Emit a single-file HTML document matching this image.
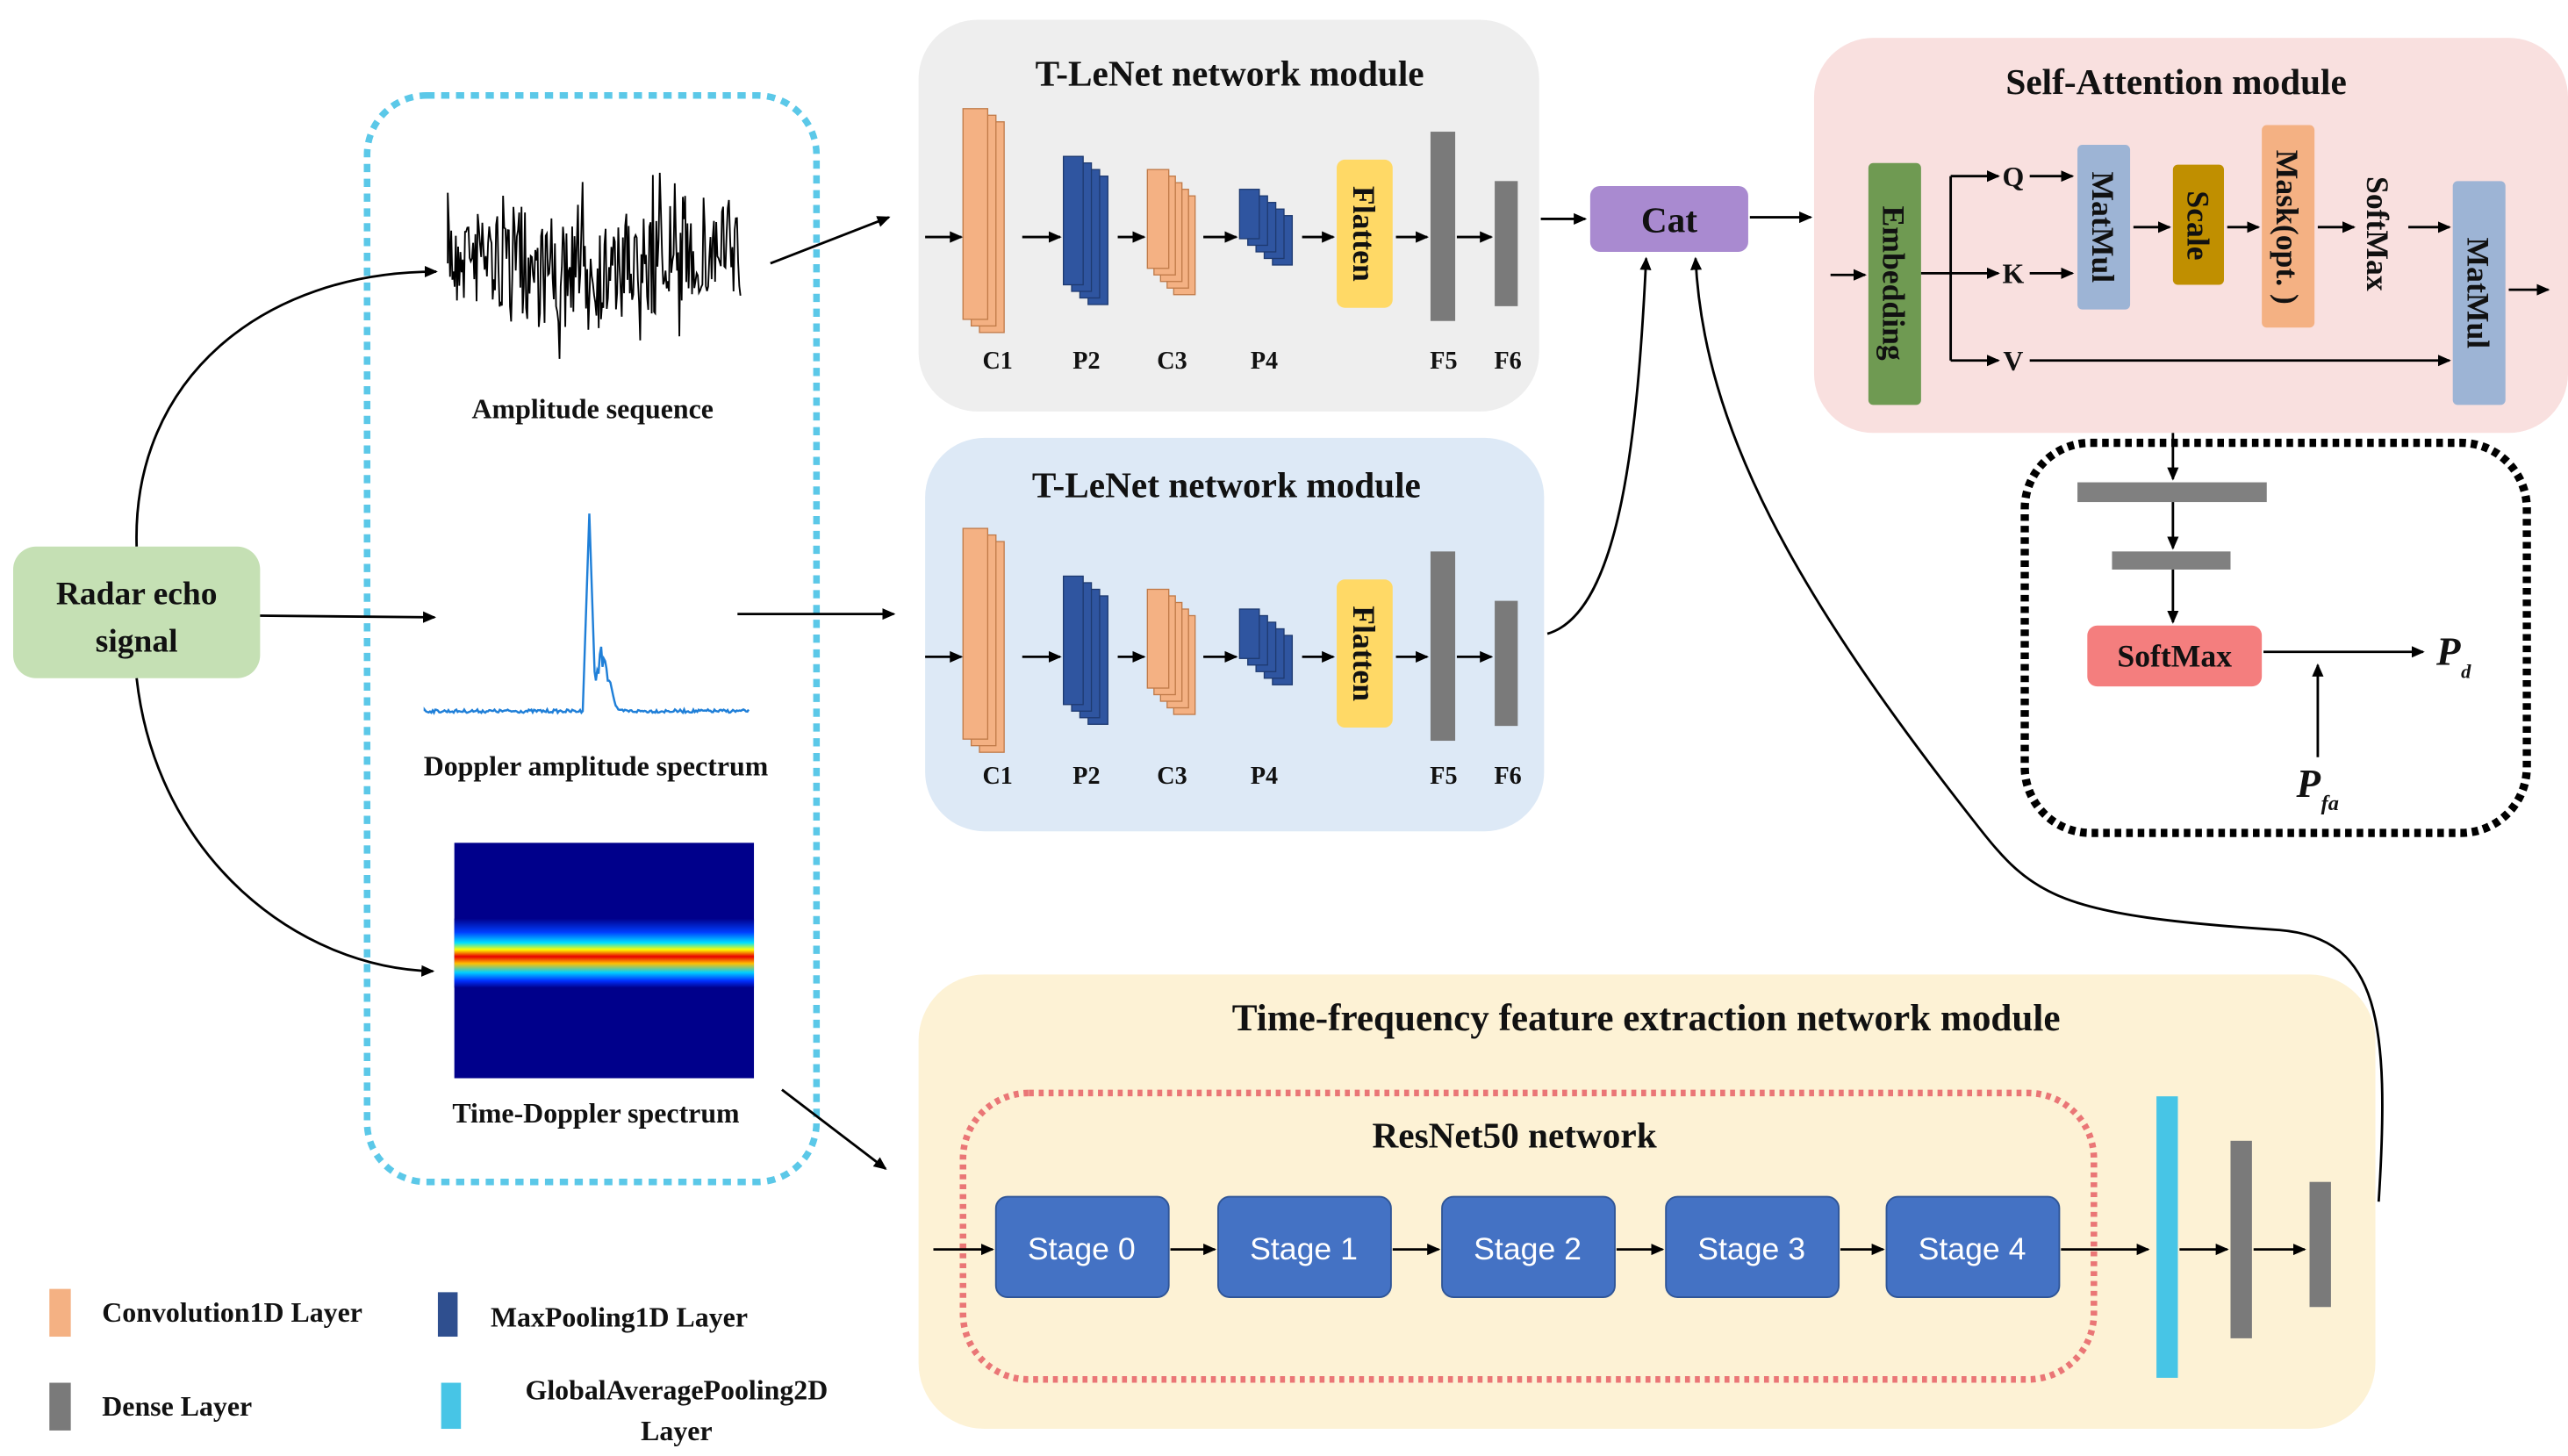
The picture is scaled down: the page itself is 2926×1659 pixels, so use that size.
<!DOCTYPE html>
<html><head><meta charset="utf-8"><style>
html,body{margin:0;padding:0;background:#fff}
svg{display:block}
text{font-family:"Liberation Serif",serif;font-weight:bold;fill:#111}
</style></head><body>
<svg id="s" width="2926" height="1659" viewBox="0 0 1560 884.5" preserveAspectRatio="none" xmlns="http://www.w3.org/2000/svg">
<defs>
<marker id="a" markerWidth="8" markerHeight="8" refX="7" refY="4" orient="auto" markerUnits="userSpaceOnUse"><path d="M0,0.5 L8,4 L0,7.5 Z" fill="#000"/></marker>
<linearGradient id="band" x1="0" y1="0" x2="0" y2="1">
<stop offset="0" stop-color="#00008b"/><stop offset="0.2" stop-color="#0040ff"/><stop offset="0.35" stop-color="#00e0ff"/><stop offset="0.45" stop-color="#ffff00"/><stop offset="0.55" stop-color="#e80000"/><stop offset="0.65" stop-color="#ffc000"/><stop offset="0.78" stop-color="#00d0ff"/><stop offset="0.9" stop-color="#0030ff"/><stop offset="1" stop-color="#00008b"/></linearGradient>
</defs>

<!-- Radar -->
<rect x="8" y="332" width="150" height="80" rx="14" fill="#c5e0b4"/>
<text x="83" y="367" font-size="20" text-anchor="middle">Radar echo</text>
<text x="83" y="396" font-size="20" text-anchor="middle">signal</text>

<!-- dotted input box -->
<rect x="223" y="58" width="273" height="660" rx="36" fill="none" stroke="#5bc8e8" stroke-width="4" stroke-dasharray="5,4"/>

<g id="amp"></g>
<text x="360" y="254" font-size="17" text-anchor="middle">Amplitude sequence</text>
<g id="dop"></g>
<text x="362" y="471" font-size="17" text-anchor="middle">Doppler amplitude spectrum</text>
<rect x="276" y="512" width="182" height="143" fill="#00008b"/>
<rect x="276" y="558" width="182" height="42" fill="url(#band)"/>
<text x="362" y="682" font-size="17" text-anchor="middle">Time-Doppler spectrum</text>

<!-- T-LeNet 1 -->
<g id="m1">
<rect x="558" y="12" width="377" height="238" rx="36" fill="#eeeeee"/>
</g>
<rect x="562" y="266" width="376" height="239" rx="36" fill="#dde9f6"/>
<text x="747" y="52" font-size="22" text-anchor="middle">T-LeNet network module</text>
<text x="745" y="302" font-size="22" text-anchor="middle">T-LeNet network module</text>
<g id="nets"></g>

<!-- Cat -->
<rect x="966" y="113" width="96" height="40" rx="6" fill="#a98ad0"/>
<text x="1014" y="141" font-size="22" text-anchor="middle" fill="#222">Cat</text>

<!-- Self-attention -->
<rect x="1102" y="23" width="458" height="240" rx="36" fill="#f9e0df"/>
<text x="1322" y="57" font-size="22" text-anchor="middle">Self-Attention  module</text>
<rect x="1135" y="99" width="32" height="147" rx="3" fill="#6f9a52"/>
<text transform="translate(1144,172) rotate(90)" font-size="19" text-anchor="middle">Embedding</text>
<rect x="1262" y="88" width="32" height="100" rx="3" fill="#9db4d5"/>
<text transform="translate(1271,138) rotate(90)" font-size="19" text-anchor="middle">MatMul</text>
<rect x="1320" y="100" width="31" height="73" rx="3" fill="#c08f00"/>
<text transform="translate(1329,137) rotate(90)" font-size="19" text-anchor="middle">Scale</text>
<rect x="1374" y="76" width="32" height="123" rx="3" fill="#f4b183"/>
<text transform="translate(1383,138) rotate(90)" font-size="19" text-anchor="middle">Mask(opt. )</text>
<text transform="translate(1438,142) rotate(90)" font-size="19" text-anchor="middle">SoftMax</text>
<rect x="1490" y="110" width="32" height="136" rx="3" fill="#9db4d5"/>
<text transform="translate(1499,178) rotate(90)" font-size="19" text-anchor="middle">MatMul</text>
<text x="1223" y="113" font-size="17" text-anchor="middle">Q</text>
<text x="1223" y="172" font-size="17" text-anchor="middle">K</text>
<text x="1223" y="225" font-size="17" text-anchor="middle">V</text>
<g stroke="#000" stroke-width="1.5" fill="none">
<line x1="1112" y1="167" x2="1133" y2="167" marker-end="url(#a)"/>
<line x1="1167" y1="166" x2="1185" y2="166"/>
<line x1="1185" y1="107" x2="1185" y2="219"/>
<line x1="1185" y1="107" x2="1214" y2="107" marker-end="url(#a)"/>
<line x1="1185" y1="166" x2="1214" y2="166" marker-end="url(#a)"/>
<line x1="1185" y1="219" x2="1214" y2="219" marker-end="url(#a)"/>
<line x1="1233" y1="107" x2="1259" y2="107" marker-end="url(#a)"/>
<line x1="1233" y1="166" x2="1259" y2="166" marker-end="url(#a)"/>
<line x1="1296" y1="138" x2="1318" y2="138" marker-end="url(#a)"/>
<line x1="1353" y1="138" x2="1372" y2="138" marker-end="url(#a)"/>
<line x1="1408" y1="138" x2="1430" y2="138" marker-end="url(#a)"/>
<line x1="1463" y1="138" x2="1488" y2="138" marker-end="url(#a)"/>
<line x1="1233" y1="219" x2="1488" y2="219" marker-end="url(#a)"/>
<line x1="1524" y1="176" x2="1548" y2="176" marker-end="url(#a)"/>
</g>

<!-- output dotted box -->
<rect x="1230" y="269" width="305" height="237" rx="40" fill="none" stroke="#000" stroke-width="5" stroke-dasharray="4,3"/>
<rect x="1262" y="293" width="115" height="12" fill="#808080"/>
<rect x="1283" y="335" width="72" height="11" fill="#808080"/>
<rect x="1268" y="380" width="106" height="37" rx="6" fill="#f47e7e"/>
<text x="1321" y="405" font-size="19" text-anchor="middle" fill="#222">SoftMax</text>
<text x="1480" y="404" font-size="24" font-style="italic">P</text><text x="1495" y="412" font-size="12" font-style="italic">d</text>
<text x="1395" y="484" font-size="24" font-style="italic">P</text><text x="1410" y="492" font-size="13" font-style="italic">fa</text>
<g stroke="#000" stroke-width="1.5" fill="none">
<line x1="1320" y1="263" x2="1320" y2="291" marker-end="url(#a)"/>
<line x1="1320" y1="305" x2="1320" y2="333" marker-end="url(#a)"/>
<line x1="1320" y1="346" x2="1320" y2="378" marker-end="url(#a)"/>
<line x1="1375" y1="396" x2="1472" y2="396" marker-end="url(#a)"/>
<line x1="1408" y1="460" x2="1408" y2="404" marker-end="url(#a)"/>
</g>

<!-- Time-frequency module -->
<rect x="558" y="592" width="885" height="276" rx="40" fill="#fdf2d5"/>
<text x="1000" y="626" font-size="23" text-anchor="middle">Time-frequency feature extraction network module</text>
<rect x="585" y="664" width="687" height="174" rx="40" fill="none" stroke="#ea7676" stroke-width="4" stroke-dasharray="3,3"/>
<text x="920" y="697" font-size="22" text-anchor="middle">ResNet50 network</text>
<g id="stages"></g>
<rect x="1310" y="666" width="13" height="171" fill="#47c5e6"/>
<rect x="1355" y="693" width="13" height="120" fill="#7a7a7a"/>
<rect x="1403" y="718" width="13" height="76" fill="#7a7a7a"/>

<!-- legend -->
<rect x="30" y="783" width="13" height="29" fill="#f4b183"/>
<text x="62" y="803" font-size="17">Convolution1D Layer</text>
<rect x="266" y="785" width="12" height="27" fill="#2f4f8f"/>
<text x="298" y="806" font-size="17">MaxPooling1D Layer</text>
<rect x="30" y="840" width="13" height="29" fill="#7a7a7a"/>
<text x="62" y="860" font-size="17">Dense Layer</text>
<rect x="268" y="840" width="12" height="28" fill="#47c5e6"/>
<text x="411" y="850" font-size="17" text-anchor="middle">GlobalAveragePooling2D</text>
<text x="411" y="875" font-size="17" text-anchor="middle">Layer</text>

<!-- connectors -->
<g stroke="#000" stroke-width="1.5" fill="none">
<path d="M83,332 C80,230 160,165 265,165" marker-end="url(#a)"/>
<line x1="158" y1="374" x2="264" y2="375" marker-end="url(#a)"/>
<path d="M83,412 C95,520 180,588 263,590" marker-end="url(#a)"/>
<line x1="468" y1="160" x2="540" y2="132" marker-end="url(#a)"/>
<line x1="448" y1="373" x2="543" y2="373" marker-end="url(#a)"/>
<line x1="475" y1="662" x2="538" y2="710" marker-end="url(#a)"/>
<line x1="936" y1="133" x2="963" y2="133" marker-end="url(#a)"/>
<line x1="1063" y1="132" x2="1100" y2="132" marker-end="url(#a)"/>
<path d="M940,385 C985,372 995,260 1000,157" marker-end="url(#a)"/>
<path d="M1445,730 C1452,620 1445,570 1385,565 C1250,556 1235,545 1200,500 C1090,360 1035,260 1030,157" marker-end="url(#a)"/>
</g>
</svg>
<script>
var NS="http://www.w3.org/2000/svg";
function el(t,a,p){var e=document.createElementNS(NS,t);for(var k in a)e.setAttribute(k,a[k]);(p||document.getElementById('s')).appendChild(e);return e;}
var seed=7;function rnd(){seed=(seed*16807)%2147483647;return seed/2147483647;}
// amplitude waveform
var d="M272,160";for(var x=272;x<=450;x+=0.7){var base=160+8*Math.sin(x/25);var y=base+(rnd()-0.5)*70+(rnd()<0.08?(rnd()-0.5)*90:0);y=Math.max(105,Math.min(218,y));d+=" L"+x.toFixed(1)+","+y.toFixed(1);}
el('path',{d:d,stroke:'#000','stroke-width':1,fill:'none'},document.getElementById('amp'));
// doppler
d="M258,432";for(var x=258;x<=455;x+=0.8){var y=432+(rnd()-0.5)*2;if(x>354&&x<362)y=432-(x<358?(x-354)*30:(362-x)*30);if(x>=362&&x<375)y=432-(25+rnd()*15)*Math.exp(-(x-366)*(x-366)/30);d+=" L"+x.toFixed(1)+","+Math.max(308,y).toFixed(1);}
el('path',{d:d,stroke:'#1f7fd8','stroke-width':1.3,fill:'none'},document.getElementById('dop'));
// nets
var g=document.getElementById('nets');
[0,255].forEach(function(o){
 for(var i=2;i>=0;i--)el('rect',{x:585+i*5,y:66+o+i*4,width:15,height:128,fill:'#f4b183',stroke:'#c07a48','stroke-width':0.7},g);
 for(var i=3;i>=0;i--)el('rect',{x:646+i*5,y:95+o+i*4,width:12,height:78,fill:'#2f55a0',stroke:'#1e3a70','stroke-width':0.7},g);
 for(var i=4;i>=0;i--)el('rect',{x:697+i*4,y:103+o+i*4,width:13,height:60,fill:'#f4b183',stroke:'#c07a48','stroke-width':0.7},g);
 for(var i=4;i>=0;i--)el('rect',{x:753+i*5,y:115+o+i*4,width:12,height:30,fill:'#2f55a0',stroke:'#1e3a70','stroke-width':0.7},g);
 el('rect',{x:812,y:97+o,width:34,height:90,rx:5,fill:'#ffd966'},g);
 var t=el('text',{transform:'translate(822,'+(142+o)+') rotate(90)','font-size':19,'text-anchor':'middle'},g);t.textContent='Flatten';
 el('rect',{x:869,y:80+o,width:15,height:115,fill:'#7a7a7a'},g);
 el('rect',{x:908,y:110+o,width:14,height:76,fill:'#7a7a7a'},g);
 var ay=144+o;
 [[562,584],[621,644],[679,695],[731,751],[791,810],[848,867],[885,906]].forEach(function(p){el('line',{x1:p[0],y1:ay,x2:p[1],y2:ay,stroke:'#000','stroke-width':1.5,'marker-end':'url(#a)'},g);});
 [['C1',606],['P2',660],['C3',712],['P4',768],['F5',877],['F6',916]].forEach(function(p){var t=el('text',{x:p[1],y:(o?476:224),'font-size':15,'text-anchor':'middle','font-weight':'normal'},g);t.textContent=p[0];});
});
// stages
var sg=document.getElementById('stages');
[605,740,876,1012,1146].forEach(function(x,i){
 el('rect',{x:x,y:727,width:105,height:61,rx:7,fill:'#4472c4',stroke:'#2f5597','stroke-width':1},sg);
 var t=el('text',{x:x+52,y:765,'font-size':19,'text-anchor':'middle',fill:'#fff','font-family':'Liberation Sans, sans-serif','font-weight':'normal',style:'fill:#fff;font-family:"Liberation Sans",sans-serif;font-weight:normal'},sg);t.textContent='Stage '+i;
});
[[567,603],[711,738],[846,874],[982,1010],[1118,1144],[1252,1305],[1324,1353],[1369,1400]].forEach(function(p){el('line',{x1:p[0],y1:759,x2:p[1],y2:759,stroke:'#000','stroke-width':1.5,'marker-end':'url(#a)'},sg);});
</script>
</body></html>
